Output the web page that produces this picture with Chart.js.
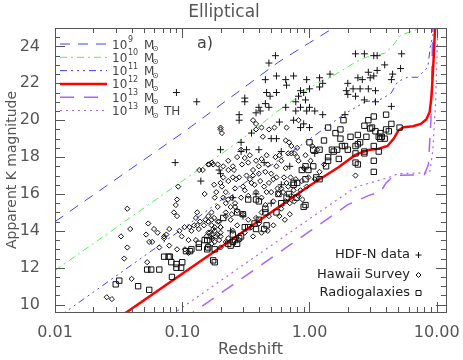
<!DOCTYPE html>
<html>
<head>
<meta charset="utf-8">
<script src="https://cdn.jsdelivr.net/npm/chart.js@4.4.1/dist/chart.umd.min.js"></script>
<style>html,body{margin:0;padding:0;background:#fff}</style>
</head>
<body>
<canvas id="c" width="463" height="360"></canvas>
<script>
// tick labels
var xTicks = [0.01, 0.1, 1, 10];
var yTicks = [10, 12, 14, 16, 18, 20, 22, 24];

// model tracks [redshift, K]
var m9 = [[0.01,14.5],[0.1,19.3],[0.57,23.15],[1.0,24.2],[1.54,25.0],[2.0,25.5]];
var m10 = [[0.01,11.85],[0.1,16.7],[0.28,18.85],[0.54,20.4],[1.17,22.05],[1.49,22.35],[2.3,23.15],[2.74,23.4],[3.9,23.63],[4.4,23.95],[5.2,24.6],[7.5,25.0],[9,25.3]];
var m11 = [[0.01,9.2],[0.1,14.1],[0.28,16.4],[0.82,18.55],[1.9,20.35],[2.74,21.0],[3.65,21.14],[4.37,21.46],[4.95,22.1],[5.9,22.33],[7.1,22.33],[8.5,22.87],[8.9,23.96],[9.6,25],[10,26]];
var m12 = [[0.03,9.18],[0.19,13.0],[1.0,16.45],[1.69,17.45],[2.29,18.12],[2.9,18.38],[3.5,18.45],[4.1,18.6],[4.6,19.0],[5.0,19.45],[5.5,19.62],[6.5,19.67],[7.5,19.8],[8.3,20.05],[8.8,20.45],[9.1,21.3],[9.4,23.0],[9.7,25.0],[9.8,26]];
var m13 = [[0.1,9.2],[0.124,9.62],[1.0,13.97],[2.0,15.42],[3.0,15.95],[3.6,16.1],[4.0,16.6],[4.6,17.0],[8.0,17.05],[8.6,17.6],[9.0,20],[9.3,25],[9.4,26]];
var m13th = [[0.07,9.1],[0.0897,9.62],[1.0,14.65],[2.3,16.37],[3.0,16.6],[4.0,16.85],[5.0,17.1],[8.8,17.15],[9.3,18.3],[9.8,21],[10.2,25],[10.4,26]];

var massExp = ['9', '10', '11', '12', '13', '13'];
var massTail = ['', '', '', '', '', 'TH'];

// observed galaxies [redshift, K]
var hdfN = [[0.09,21.5],[0.13,21.0],[0.54,23.5],[0.48,23.1],[0.45,22.2],[0.55,22.4],[0.46,21.5],[0.49,21.3],[0.31,21.2],[0.31,21.0],
[0.65,22.2],[0.75,22.4],[0.95,22.2],[1.2,22.3],[1.45,22.5],[0.85,21.6],[1.0,21.7],[1.2,21.8],[0.82,21.3],[0.93,21.1],
[0.85,20.7],[1.0,20.7],[1.1,20.5],[0.65,20.7],[0.48,20.7],[0.4,20.7],[0.38,20.4],
[2.3,23.6],[2.7,23.6],[3.2,23.5],[3.4,23.5],[5.3,23.6],[3.9,23.0],[4.5,22.5],[5.2,22.8],[2.9,22.6],[3.2,22.4],[3.4,22.7],
[2.4,22.3],[2.6,22.2],[3.0,22.3],[4.4,22.2],[2.0,22.0],[1.95,21.6],[2.2,21.7],[2.5,21.7],[2.9,21.7],[3.3,21.6],[2.0,21.4],
[2.3,21.3],[2.7,21.1],[3.3,21.0],[4.4,20.75],[1.9,20.3],
[1.27,22.0],[0.66,21.9],[0.9,21.5],[0.78,21.0],[0.95,20.5],[0.78,20.5],[1.27,20.3],[0.75,20.0],[0.9,19.8],[1.0,19.6],
[0.85,19.6],[0.28,20.3],[0.28,20.0],[0.45,20.9],[0.55,21.5],[0.41,20.5],[0.2,18.4],[0.29,18.8],[0.29,18.3],[0.4,18.4],
[0.5,19.0],[0.55,19.0],[0.088,17.7],[0.195,17.3],[0.14,16.7],[0.2,17.1],[0.32,18.4],[0.44,17.7],[0.25,15.8],[0.6,16.5],
[0.38,16.0],[0.7,17.5],[0.3,14.8],[0.24,14.0],[0.17,13.6],[0.5,15.5],[1.1,18.2],[0.6,18.3],[0.35,19.3],[0.58,19.9]];

var hawaii = [[0.0255,10.4],[0.028,10.3],[0.04,11.4],[0.035,12.5],[0.053,12.3],[0.037,13.1],[0.033,13.7],[0.039,14.1],[0.037,15.2],[0.054,14.4],
[0.052,13.8],[0.055,13.4],[0.06,14.1],[0.064,13.9],[0.058,13.4],[0.079,14.1],[0.075,13.8],[0.072,13.6],[0.079,13.2],[0.066,13.1],
[0.095,14.0],[0.099,13.7],[0.118,14.0],[0.112,13.5],[0.091,13.0],[0.105,13.0],[0.112,12.8],[0.131,15.0],[0.128,14.7],[0.124,14.3],
[0.131,14.3],[0.135,14.1],[0.148,14.3],[0.16,14.5],[0.17,14.6],[0.175,14.1],[0.17,13.8],[0.155,13.7],[0.091,15.7],[0.089,15.4],
[0.086,15.0],[0.091,14.8],[0.093,16.4],[0.16,17.6],[0.145,17.3],[0.175,17.6],[0.136,17.3],
[0.152,14.6],[0.17,15.0],[0.19,14.5],[0.18,14.2],[0.2,14.2],[0.22,14.8],[0.24,15.3],[0.245,15.8],[0.22,16.1],[0.205,16.4],
[0.163,17.6],[0.19,17.6],[0.23,17.8],[0.255,17.3],[0.21,16.9],[0.265,16.8],[0.22,15.5],[0.138,14.5],[0.128,13.5],[0.104,14.2],
[0.114,14.2],[0.072,13.7],
[0.171,17.7],[0.21,17.5],[0.23,17.3],[0.25,17.5],[0.295,17.6],[0.33,17.7],[0.38,17.8],[0.42,17.9],[0.46,18.1],[0.54,18.0],
[0.6,17.8],[0.72,18.2],[0.82,17.8],[0.93,18.1],[1.02,17.8],
[0.178,16.5],[0.2,16.6],[0.23,16.7],[0.25,16.9],[0.28,16.9],[0.32,17.0],[0.36,17.0],[0.4,17.1],[0.45,17.2],[0.5,17.1],
[0.55,16.9],[0.63,16.9],[0.71,16.9],[0.78,16.8],[0.87,16.7],[0.98,16.9],[1.1,16.8],
[0.185,16.1],[0.21,15.8],[0.23,15.7],[0.26,15.5],[0.29,15.8],[0.33,15.9],[0.38,16.1],[0.42,15.8],[0.46,16.1],[0.5,16.1],
[0.57,16.0],[0.6,16.3],[0.68,16.4],[0.72,15.9],
[0.16,14.8],[0.178,14.7],[0.195,14.5],[0.22,15.0],[0.245,14.9],[0.27,15.1],[0.3,14.9],[0.33,14.6],[0.38,14.7],[0.42,15.0],[0.48,14.8],
[0.17,14.3],[0.18,14.0],[0.19,13.8],[0.17,13.6],[0.195,13.5],[0.2,14.2],[0.165,13.9],[0.18,13.4],[0.2,13.7],[0.16,13.2],
[0.16,13.9],[0.185,13.7],[0.2,13.9],[0.23,13.6],[0.28,13.5],[0.17,13.3],[0.2,13.1],
[0.2,19.6],[0.2,19.5],[0.205,19.3],[0.38,19.8],[0.38,19.5],[0.42,19.6],[0.48,19.5],[0.53,19.6],[0.43,19.1],[0.36,20.0],
[0.29,18.4],[0.34,18.1],[0.27,18.0],[0.31,17.95],[0.66,19.6],[0.82,20.0],[0.65,18.9],[0.69,18.8],[0.72,18.6],[0.8,18.5],
[0.76,18.2],[0.58,18.1],[0.8,18.0],[0.68,18.2],[2.3,17.0],
[0.35,14.2],[0.4,14.4],[0.45,15.4],[0.52,15.6],[0.6,15.2],[0.65,15.6],[0.75,16.2],[0.85,16.2],[0.95,16.4],[1.2,17.2],
[1.3,17.6],[1.15,18.4],[1.05,18.6],[0.3,16.4],[0.35,16.6],[0.26,16.3],[0.55,17.5],[0.65,17.4],[0.9,17.4],[0.27,14.3],
[0.25,14.0],[0.31,13.9],
[0.34,16.8],[0.37,16.5],[0.41,16.7],[0.44,16.4],[0.48,16.6],[0.52,16.8],[0.36,17.3],[0.4,17.5],[0.47,17.6],[0.31,16.2],
[0.56,16.3],[0.62,16.1],[0.66,16.6],[0.7,15.5],[0.76,15.6],[0.82,15.9],[0.88,15.7],[0.58,14.8],[0.64,14.6],[0.7,14.9],
[0.52,14.3],[0.47,14.0],[0.42,13.9],[0.36,13.7],[0.22,13.4],[0.24,14.6],[0.26,15.3],[0.19,15.3],[0.18,15.8],[0.15,16.0]];

var radio = [[0.03,11.1],[0.032,11.3],[0.045,11.0],[0.055,10.8],[0.053,11.9],[0.057,11.9],[0.066,11.9],[0.072,12.6],[0.078,12.6],[0.082,12.3],
[0.083,11.5],[0.09,12.0],[0.098,12.0],[0.107,12.9],[0.118,13.0],[0.135,13.3],[0.157,13.5],[0.157,13.0],[0.18,13.0],[0.18,12.3],
[0.16,13.1],[0.24,13.2],[0.29,13.7],[0.21,14.7],[0.27,15.0],[0.3,14.9],[0.31,14.2],[0.4,15.6],[0.45,15.0],[0.46,14.3],
[0.44,14.1],[0.55,15.0],[0.57,16.0],[0.69,16.0],[0.79,15.8],[0.93,15.4],[0.75,16.6],[0.8,16.6],[0.98,17.3],[1.07,17.5],
[0.93,17.5],[0.87,17.3],[0.33,15.7],[0.38,15.7],[0.25,13.4],
[1.85,20.0],[2.9,20.0],[3.1,19.6],[3.3,19.4],[4.0,19.5],[3.7,19.1],[1.75,19.5],[1.75,19.0],[2.1,19.1],[2.4,19.2],
[2.8,19.1],[1.3,18.9],[1.8,18.6],[1.9,18.6],[2.3,18.6],[2.4,18.7],[1.55,18.3],[1.65,18.4],[2.0,18.4],[2.3,18.2],
[2.7,18.2],[1.4,18.0],[1.2,18.4],[1.0,18.8],[1.07,18.4],[3.5,19.1],[3.9,19.0],[4.0,20.3],[4.4,19.8],[5.1,19.6],
[4.2,19.4],[3.6,19.3],[3.6,19.0],[3.5,18.3],[1.4,19.6],[1.6,19.3],[3.2,20.2],[2.7,19.7],[3.0,19.55],
[1.5,18.4],[2.5,18.8],[3.2,18.6],[2.7,18.3],[2.3,17.7],[2.4,17.6],[3.2,17.8],[3.2,17.2],[1.7,17.9],[1.4,17.8],
[1.35,17.5],[1.13,16.9],[1.2,16.8],[0.93,16.8],[0.75,16.5],[0.66,15.8],[0.6,15.5],[0.9,15.3],[0.45,15.2],[0.4,14.6],
[0.37,14.4],[0.33,14.2],[0.38,14.1],[0.25,13.8],[0.26,13.5],[0.23,13.3],[0.27,13.3],[0.28,13.6],
[0.08,12.6],[0.09,12.2],[0.1,12.3],[0.115,12.9],[0.135,13.1],[0.15,13.5],[0.175,12.4]];

var surveyNames = ['HDF-N data', 'Hawaii Survey', 'Radiogalaxies'];

var FONT = 'DejaVu Sans';
var GREY = '#555';

function xy(a) { return a.map(function(p){ return {x: p[0], y: p[1]}; }); }

function track(data, color, dash, width) {
    return { data: xy(data), showLine: true, pointRadius: 0, borderColor: color,
             borderDash: dash, borderWidth: width, fill: false, tension: 0, isTrack: true };
}
function pts(data, style, r) {
    return { data: xy(data), showLine: false, pointStyle: style, pointRadius: r,
             pointBorderColor: '#111', pointBackgroundColor: 'rgba(0,0,0,0)', pointBorderWidth: 1 };
}

var datasets = [
    pts(hdfN, 'cross', 3.5),
    pts(hawaii, 'rectRot', 2.6),
    pts(radio, 'rect', 3.8),
    track(m9, '#4040ff', [10, 8], 1),
    track(m10, '#55ee55', [7, 4, 2, 4], 1),
    track(m11, '#4040ff', [7, 4, 2, 4, 2, 4, 2, 4], 1),
    track(m12, '#ff0000', [], 2.5),
    track(m13, '#a866f8', [14, 10], 1.5),
    track(m13th, '#a866f8', [2, 4], 1.2)
];

var frameTicks = {
    id: 'frameTicks',
    afterDatasetsDraw: function(chart) {
        var ctx = chart.ctx, a = chart.chartArea, x = chart.scales.x, y = chart.scales.y;
        ctx.save();
        ctx.strokeStyle = GREY;
        ctx.lineWidth = 1;
        ctx.strokeRect(Math.round(a.left) + 0.5, Math.round(a.top) + 0.5,
                       Math.round(a.right - a.left), Math.round(a.bottom - a.top));
        ctx.beginPath();
        for (var d = -2; d <= 1; d++) {
            for (var m = 1; m <= 9; m++) {
                var v = m * Math.pow(10, d);
                if (v < x.min || v > x.max) continue;
                var px = Math.round(x.getPixelForValue(v)) + 0.5;
                var len = m === 1 ? 10 : 5;
                ctx.moveTo(px, a.bottom); ctx.lineTo(px, a.bottom - len);
                ctx.moveTo(px, a.top); ctx.lineTo(px, a.top + len);
            }
        }
        for (var k = 10; k < y.max; k += 0.5) {
            var py = Math.round(y.getPixelForValue(k)) + 0.5;
            var l2 = k % 2 === 0 ? 10 : 5;
            ctx.moveTo(a.left, py); ctx.lineTo(a.left + l2, py);
            ctx.moveTo(a.right, py); ctx.lineTo(a.right - l2, py);
        }
        ctx.stroke();
        ctx.restore();
    }
};

var legends = {
    id: 'legends',
    afterDraw: function(chart) {
        var ctx = chart.ctx;
        ctx.save();
        // mass tracks
        var tracks = chart.data.datasets.filter(function(d){ return d.isTrack; });
        tracks.forEach(function(ds, i) {
            var ly = 44 + i * 13.3;
            ctx.strokeStyle = ds.borderColor;
            ctx.lineWidth = ds.borderWidth;
            ctx.setLineDash(ds.borderDash);
            ctx.beginPath();
            ctx.moveTo(60, ly); ctx.lineTo(107, ly);
            ctx.stroke();
            ctx.setLineDash([]);
            ctx.fillStyle = '#444';
            ctx.textBaseline = 'alphabetic';
            ctx.textAlign = 'left';
            ctx.font = '12px "' + FONT + '"';
            ctx.fillText('10', 112, ly + 4.5);
            ctx.font = '8px "' + FONT + '"';
            ctx.fillText(massExp[i], 128, ly - 2);
            ctx.font = '12px "' + FONT + '"';
            ctx.fillText('M', 144, ly + 4.5);
            ctx.font = '8px "' + FONT + '"';
            ctx.fillText('\u2299', 152, ly + 7);
            if (massTail[i]) {
                ctx.font = '12px "' + FONT + '"';
                ctx.fillText(massTail[i], 164, ly + 4.5);
            }
        });
        // panel tag
        ctx.font = '16px "' + FONT + '"';
        ctx.fillStyle = '#444';
        ctx.textAlign = 'center';
        ctx.textBaseline = 'middle';
        ctx.fillText('a)', 205, 44);
        // survey legend
        ctx.font = '13px "' + FONT + '"';
        ctx.textAlign = 'right';
        ctx.fillStyle = '#222';
        var rows = [255, 275, 293];
        ctx.strokeStyle = '#111';
        ctx.lineWidth = 1;
        surveyNames.forEach(function(name, i) {
            var ry = rows[i];
            ctx.fillText(name, 410, ry);
            var sx = 418.5;
            ctx.beginPath();
            if (i === 0) {
                ctx.moveTo(sx - 3, ry); ctx.lineTo(sx + 3, ry);
                ctx.moveTo(sx, ry - 3); ctx.lineTo(sx, ry + 3);
            } else if (i === 1) {
                ctx.moveTo(sx, ry - 2.5); ctx.lineTo(sx + 2.5, ry);
                ctx.lineTo(sx, ry + 2.5); ctx.lineTo(sx - 2.5, ry); ctx.closePath();
            } else {
                ctx.rect(sx - 2.5, ry - 2.5, 5, 5);
            }
            ctx.stroke();
        });
        ctx.restore();
    }
};

new Chart(document.getElementById('c'), {
    type: 'scatter',
    data: { datasets: datasets },
    options: {
        responsive: false,
        animation: false,
        devicePixelRatio: 1,
        layout: { padding: { right: 15 } },
        plugins: {
            legend: { display: false },
            tooltip: { enabled: false },
            title: { display: true, text: 'Elliptical', color: GREY,
                     font: { family: FONT, size: 17, weight: 'normal' }, padding: { top: 2, bottom: 5.6 } }
        },
        scales: {
            x: {
                type: 'logarithmic', min: 0.01, max: 11.8,
                grid: { display: false }, border: { display: false },
                afterBuildTicks: function(s) { s.ticks = xTicks.map(function(v){ return {value: v}; }); },
                afterFit: function(s) { s.height = 48; },
                ticks: { color: GREY, font: { family: FONT, size: 16 }, padding: 3, maxRotation: 0, autoSkip: false,
                         callback: function(v) { return Number(v).toFixed(2); } },
                title: { display: true, text: 'Redshift', color: GREY, font: { family: FONT, size: 16 },
                         padding: { top: 0, bottom: 1 } }
            },
            y: {
                min: 9.6, max: 25,
                grid: { display: false }, border: { display: false },
                afterBuildTicks: function(s) { s.ticks = yTicks.map(function(v){ return {value: v}; }); },
                afterFit: function(s) { s.width = 55; },
                ticks: { color: GREY, font: { family: FONT, size: 16 }, padding: 7,
                         callback: function(v) { return String(v); } },
                title: { display: true, text: 'Apparent K magnitude', color: GREY, font: { family: FONT, size: 14 },
                         padding: { top: 4, bottom: 0 } }
            }
        }
    },
    plugins: [frameTicks, legends]
});
</script>
</body>
</html>
